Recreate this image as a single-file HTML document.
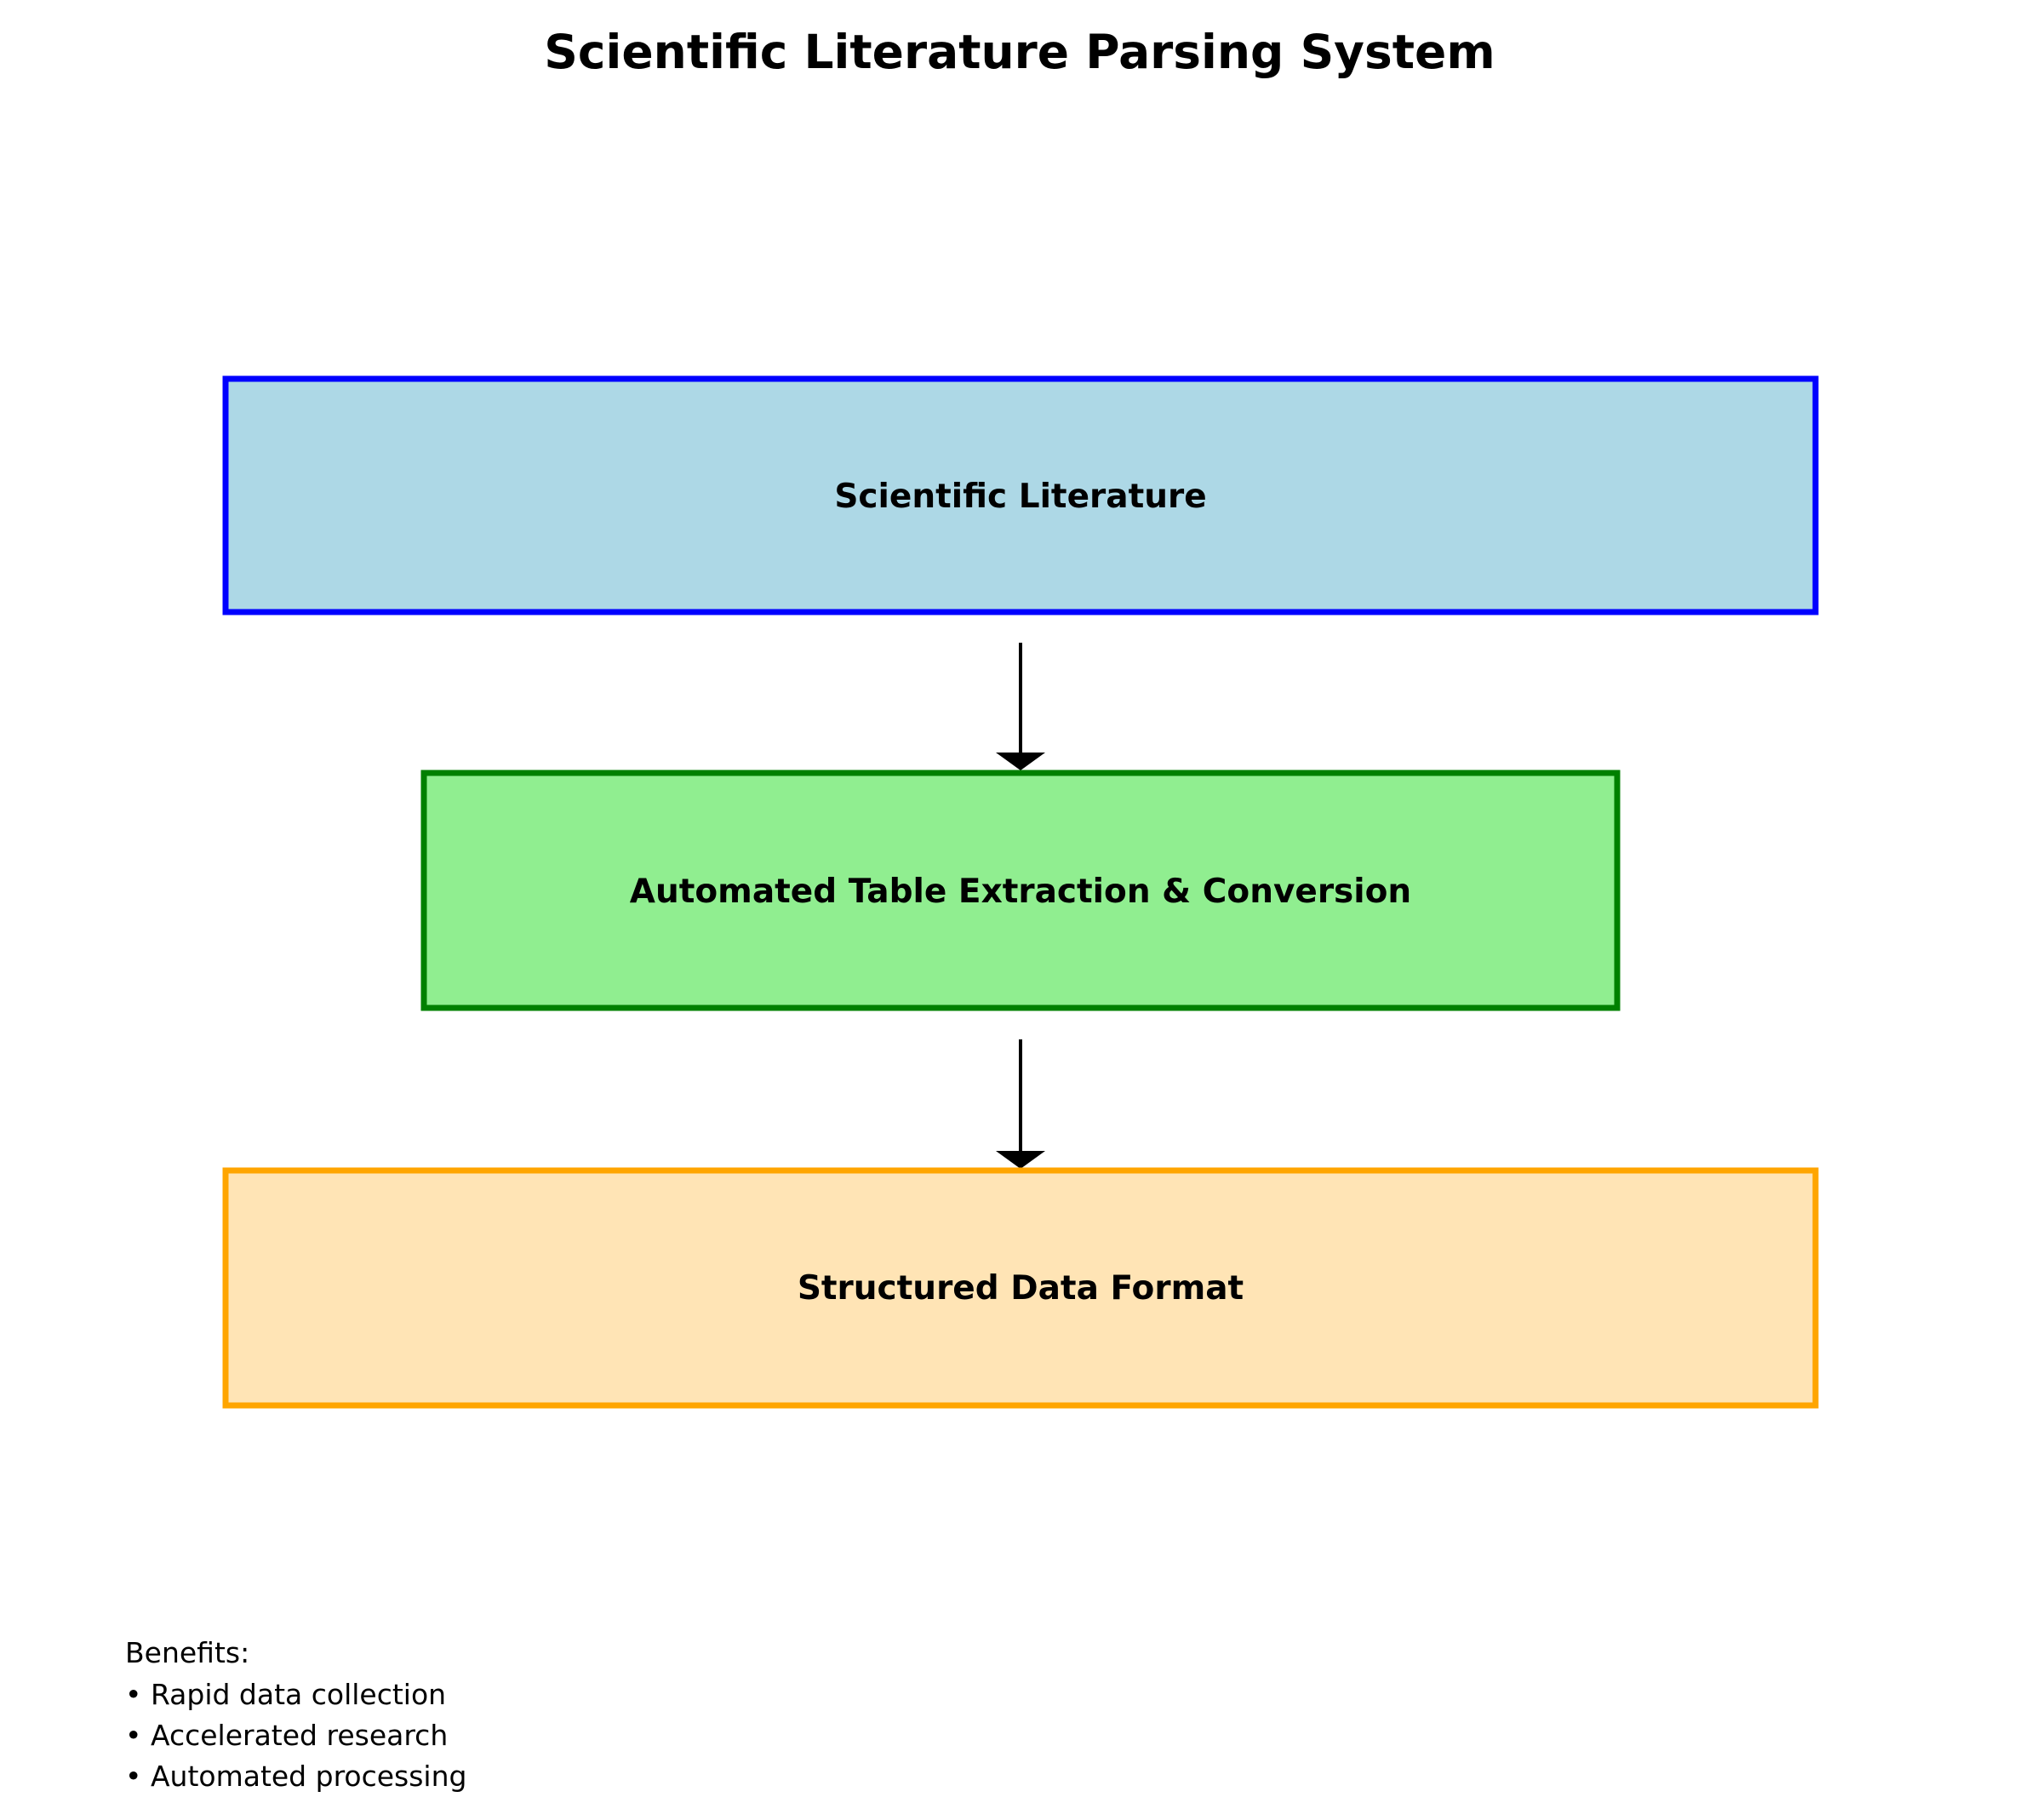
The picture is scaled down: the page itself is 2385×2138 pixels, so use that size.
<!DOCTYPE html>
<html><head><meta charset="utf-8"><style>
html,body{margin:0;padding:0;background:#fff;}
svg{display:block;}
text{font-family:"DejaVu Sans","Liberation Sans",sans-serif;}
</style></head><body>
<svg width="2385" height="2138" viewBox="0 0 2385 2138" xmlns="http://www.w3.org/2000/svg">
<rect width="2385" height="2138" fill="#fff"/>
<text x="1198" y="80" font-size="55" font-weight="bold" text-anchor="middle">Scientific Literature Parsing System</text>

<rect x="265" y="445" width="1868" height="274" fill="#add8e6" stroke="#0000ff" stroke-width="7"/>
<text x="1199" y="596" font-size="39" font-weight="bold" text-anchor="middle">Scientific Literature</text>

<line x1="1199" y1="755" x2="1199" y2="886" stroke="#000" stroke-width="4"/>
<polygon points="1170,884 1228,884 1199,905" fill="#000"/>

<rect x="498" y="908" width="1402" height="276" fill="#90ee90" stroke="#008000" stroke-width="7"/>
<text x="1199" y="1060" font-size="39" font-weight="bold" text-anchor="middle">Automated Table Extraction &amp; Conversion</text>

<line x1="1199" y1="1221" x2="1199" y2="1354" stroke="#000" stroke-width="4"/>
<polygon points="1170,1352 1228,1352 1199,1373" fill="#000"/>

<rect x="265" y="1375" width="1868" height="276" fill="#ffe4b5" stroke="#ffa500" stroke-width="7"/>
<text x="1199" y="1526" font-size="39" font-weight="bold" text-anchor="middle">Structured Data Format</text>

<g font-size="33">
<text x="147" y="1953">Benefits:</text>
<text x="147" y="2002">• Rapid data collection</text>
<text x="147" y="2050">• Accelerated research</text>
<text x="147" y="2098">• Automated processing</text>
</g>
</svg>
</body></html>
